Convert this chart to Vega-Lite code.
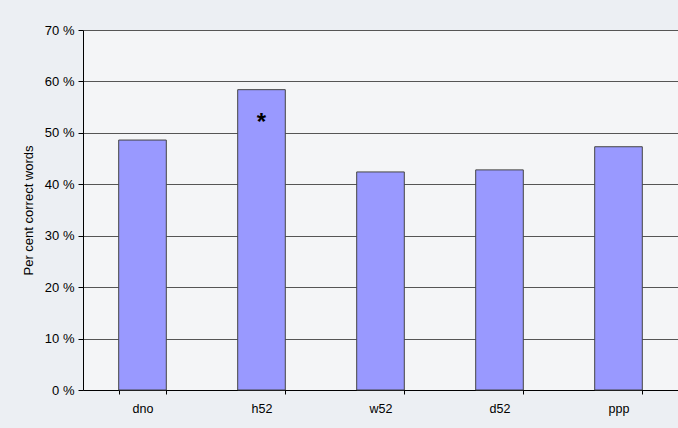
{
  "$schema": "https://vega.github.io/schema/vega-lite/v6.json",
  "width": 595,
  "height": 360,
  "autosize": {"type": "none"},
  "padding": {"left": 83, "top": 30, "right": 0, "bottom": 38},
  "background": "#eceff3",
  "config": {
    "view": {"stroke": null, "fill": "#f4f5f7"},
    "font": "Liberation Sans"
  },
  "data": {
    "values": [
      {"condition": "dno", "percent": 48.6},
      {"condition": "h52", "percent": 58.4},
      {"condition": "w52", "percent": 42.4},
      {"condition": "d52", "percent": 42.8},
      {"condition": "ppp", "percent": 47.3}
    ]
  },
  "layer": [
    {
      "mark": {"type": "bar", "fill": "#9999ff", "stroke": "#444444", "strokeWidth": 1},
      "encoding": {
        "x": {
          "field": "condition",
          "type": "nominal",
          "sort": ["dno", "h52", "w52", "d52", "ppp"],
          "scale": {"paddingInner": 0.6, "paddingOuter": 0.3},
          "axis": {
            "title": null,
            "labelAngle": 0,
            "labelFontSize": 12.5,
            "labelColor": "#000000",
            "labelPadding": 8,
            "tickBand": "extent",
            "tickSize": 4,
            "tickColor": "#000000",
            "domainColor": "#000000",
            "grid": false
          }
        },
        "y": {
          "field": "percent",
          "type": "quantitative",
          "scale": {"domain": [0, 70], "nice": false},
          "axis": {
            "title": "Per cent correct words",
            "titleFontSize": 13,
            "titleFontWeight": "normal",
            "titleColor": "#000000",
            "titlePadding": 9,
            "values": [0, 10, 20, 30, 40, 50, 60, 70],
            "labelExpr": "datum.value + ' %'",
            "labelFontSize": 13,
            "labelColor": "#000000",
            "labelPadding": 4,
            "tickSize": 5,
            "tickColor": "#000000",
            "domainColor": "#000000",
            "grid": true,
            "gridColor": "#555555",
            "gridOpacity": 1
          }
        }
      }
    },
    {
      "data": {"values": [{"condition": "h52", "percent": 52.0, "mark": "*"}]},
      "mark": {"type": "text", "fontSize": 24, "fontWeight": "bold", "color": "#000000", "baseline": "middle"},
      "encoding": {
        "x": {"field": "condition", "type": "nominal", "sort": ["dno", "h52", "w52", "d52", "ppp"]},
        "y": {"field": "percent", "type": "quantitative"},
        "text": {"field": "mark"}
      }
    }
  ]
}
